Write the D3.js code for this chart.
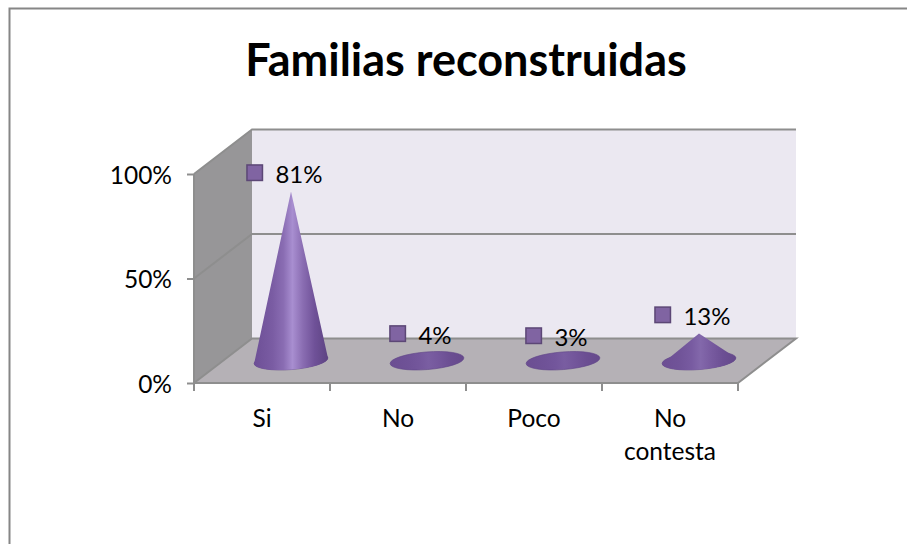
<!DOCTYPE html>
<html><head><meta charset="utf-8">
<script src="https://cdn.jsdelivr.net/npm/d3@7/dist/d3.min.js"></script>
<style>html,body{margin:0;padding:0;background:#fff}svg{display:block}text{font-family:Lato,"Open Sans",sans-serif;fill:#000}</style>
</head><body><svg id="c" width="907" height="544"></svg>
<script>
const categories=["Si","No","Poco","No contesta"];
const values=[81,4,3,13];
const valueLabels=["81%","4%","3%","13%"];
const yTicks=[0,50,100];
const chartTitle="Familias reconstruidas";

const svg=d3.select("#c");
const W=907,H=544;
const x=d3.scaleBand().domain(categories).range([194,738]);
const y=d3.scaleLinear().domain([0,100]).range([383,174]);
const depth={x:58,y:-44.5};
const mid={x:depth.x/2,y:depth.y/2};
const defs=svg.append("defs");
const FS=24.5;

// frame
svg.append("path").attr("d",`M9.5,${H}V8.5H${W}`).attr("fill","none").attr("stroke","#868686").attr("stroke-width",2);
svg.append("text").attr("x",466).attr("y",76).attr("text-anchor","middle").attr("font-size",45).attr("font-weight",700).text(chartTitle);

const [x0,x1]=x.range(),y0=y(0),yT=y(100);

// walls
svg.append("path").attr("d",`M${x0+depth.x},${yT+depth.y}H${x1+depth.x}V${y0+depth.y}H${x0+depth.x}Z`).attr("fill","#ebe8f1");
svg.append("path").attr("d",`M${x0},${yT}L${x0+depth.x},${yT+depth.y}V${y0+depth.y}L${x0},${y0}Z`).attr("fill","#979698");
svg.append("path").attr("d",`M${x0},${y0}L${x0+depth.x},${y0+depth.y}H${x1+depth.x}L${x1},${y0}Z`).attr("fill","#b5b1b6");

// gridlines
const lineC="#8e8e8e";
yTicks.forEach(t=>{
  svg.append("path").attr("fill","none").attr("stroke",lineC).attr("stroke-width",2)
    .attr("d",`M${x0},${y(t)}L${x0+depth.x},${y(t)+depth.y}H${x1+depth.x}${t===0?`L${x1},${y0}`:""}`);
});

// axes
const yAxis=d3.axisLeft(y).tickValues(yTicks).tickFormat(d=>d+"%").tickSize(7).tickPadding(15);
const ya=svg.append("g").attr("transform",`translate(${x0},0)`).call(yAxis);
const bandEdges=categories.map(c=>x(c)).concat([x1]);
const xa=svg.append("g");
xa.append("path").attr("d",`M${x0},${yT}V${y0}H${x1}`).attr("fill","none").attr("stroke",lineC).attr("stroke-width",2);
xa.selectAll("line").data(bandEdges).join("line").attr("x1",d=>d).attr("x2",d=>d).attr("y1",y0).attr("y2",y0+8).attr("stroke",lineC).attr("stroke-width",2);
ya.select(".domain").remove();
ya.selectAll("line").attr("stroke",lineC).attr("stroke-width",2);
ya.selectAll("text").attr("font-size",FS).style("font-family","Lato").attr("dy","0.38em");
categories.forEach(c=>{
  const cx=x(c)+x.bandwidth()/2;
  const lines=c==="No contesta"?["No","contesta"]:[c];
  lines.forEach((l,i)=>svg.append("text").attr("x",cx).attr("y",427+i*33).attr("text-anchor","middle").attr("font-size",FS).text(l));
});

// cones
const RX=37,RY=8.8,ROT=-4.5,rad=ROT*Math.PI/180;
const mix=d3.interpolateRgb;
const g=svg.append("g");
values.forEach((v,i)=>{
  const cx=x(categories[i])+x.bandwidth()/2+mid.x, by=y0+mid.y, ay=y(v)+mid.y;
  const lx=cx-RX*Math.cos(rad), ly=by-RX*Math.sin(rad), rx=cx+RX*Math.cos(rad), ry=by+RX*Math.sin(rad);
  const t=Math.min(1,v/50);
  const id="cone"+i;
  const gr=defs.append("linearGradient").attr("id",id).attr("gradientUnits","userSpaceOnUse").attr("x1",cx-RX).attr("x2",cx+RX).attr("y1",0).attr("y2",0);
  [[0,"#6d4f96","#6b4e92"],[.25,"#7a5ca3","#6e5196"],[.4,"#8a6db3","#72559a"],[.52,"#a88ed0","#765a9e"],[.66,"#8a6db2","#72559a"],[.82,"#6f5198","#6b4e92"],[1,"#5d4382","#674a8d"]]
   .forEach(([o,a,b])=>gr.append("stop").attr("offset",o).attr("stop-color",mix(b,a)(t)));
  g.append("ellipse").attr("cx",cx).attr("cy",by).attr("rx",RX).attr("ry",RY)
    .attr("transform",`rotate(${ROT} ${cx} ${by})`).attr("fill",`url(#${id})`).attr("stroke","#5f4488").attr("stroke-width",.6);
  if(by-ay>RY+2){
    g.append("path").attr("d",`M${cx},${ay}L${lx},${ly}A${RX},${RY} ${ROT} 0 0 ${rx},${ry}Z`).attr("fill",`url(#${id})`);
  }
  // data label: key square and value
  const lab=svg.append("text").attr("y",ay-17.5).attr("dy","0.36em").attr("font-size",24).text(valueLabels[i]);
  const tw=lab.node().getComputedTextLength();
  const mx=cx-6.5-(29+tw)/2+8;
  lab.attr("x",mx+21);
  svg.append("rect").attr("x",mx-7.5).attr("y",ay-19-7.5).attr("width",15.5).attr("height",15.5)
    .attr("fill","#8064a2").attr("stroke","#5c4776").attr("stroke-width",1.5);
});
</script></body></html>
